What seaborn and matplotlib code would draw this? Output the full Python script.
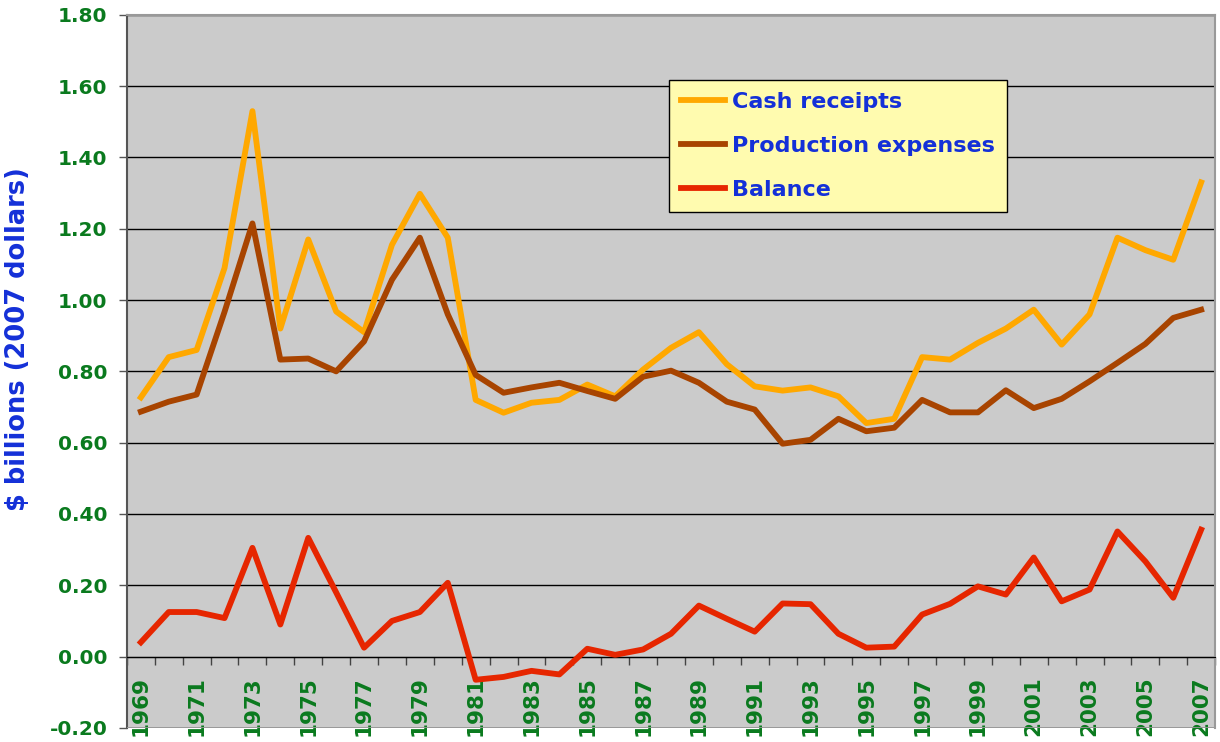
import pandas as pd
import matplotlib
matplotlib.use("Agg")
import matplotlib.pyplot as plt
import seaborn as sns
from matplotlib.ticker import FixedLocator, FormatStrFormatter
from matplotlib.lines import Line2D

years = list(range(1969, 2008))

cash_receipts = [0.727, 0.84, 0.86, 1.09, 1.53, 0.92, 1.17, 0.968, 0.91, 1.155,
                 1.298, 1.175, 0.72, 0.684, 0.712, 0.72, 0.763, 0.73, 0.805, 0.866,
                 0.91, 0.82, 0.758, 0.746, 0.755, 0.73, 0.655, 0.667, 0.84, 0.833,
                 0.88, 0.92, 0.973, 0.875, 0.96, 1.175, 1.14, 1.113, 1.33]

production_expenses = [0.687, 0.715, 0.735, 0.967, 1.215, 0.833, 0.836, 0.80, 0.884, 1.057,
                       1.175, 0.96, 0.79, 0.74, 0.755, 0.768, 0.745, 0.723, 0.785, 0.802,
                       0.768, 0.715, 0.693, 0.597, 0.608, 0.667, 0.632, 0.642, 0.72, 0.685,
                       0.685, 0.747, 0.697, 0.723, 0.772, 0.824, 0.877, 0.95, 0.973]

balance = [0.04, 0.125, 0.125, 0.108, 0.305, 0.09, 0.333, 0.18, 0.025, 0.10,
           0.125, 0.207, -0.065, -0.057, -0.04, -0.05, 0.022, 0.005, 0.02, 0.064,
           0.143, 0.106, 0.07, 0.149, 0.147, 0.064, 0.025, 0.028, 0.118, 0.148,
           0.197, 0.174, 0.278, 0.155, 0.188, 0.351, 0.267, 0.165, 0.356]

series_names = ["Cash receipts", "Production expenses", "Balance"]
colors = {"Cash receipts": "#FFA800", "Production expenses": "#A84400", "Balance": "#E62600"}

df = pd.DataFrame({"year": years * 3,
                   "value": cash_receipts + production_expenses + balance,
                   "series": [s for s in series_names for _ in years]})

green = "#0A7A1E"
blue = "#1430D8"

fig = plt.figure(figsize=(12.2, 7.42), dpi=100)
ax = fig.add_axes([0.104, 0.019, 0.892, 0.961])
ax.set_facecolor("#CBCBCB")

sns.lineplot(data=df, x="year", y="value", hue="series", palette=colors,
             linewidth=4.2, ax=ax, legend=False, zorder=3)

ax.set_xlim(1968.5, 2007.5)
ax.set_ylim(-0.2, 1.8)

# y axis
ax.set_yticks([-0.2 + 0.2 * i for i in range(11)])
ax.yaxis.set_major_formatter(FormatStrFormatter("%.2f"))
ax.tick_params(axis="y", direction="out", length=6, width=1, color="#555555",
               labelsize=14.5, labelcolor=green, pad=8)
for t in ax.get_yticklabels():
    t.set_fontweight("bold")
ax.yaxis.grid(True, color="black", linewidth=1)
ax.set_axisbelow(True)
ax.set_ylabel("$ billions (2007 dollars)", color=blue, fontsize=18.5,
              fontweight="bold")
ax.yaxis.set_label_coords(-0.088, 0.545)

# x axis sits at zero
ax.spines["bottom"].set_position(("data", 0))
ax.spines["bottom"].set_color("black")
ax.spines["left"].set_color("#555555")
ax.spines["left"].set_linewidth(1.5)
ax.spines["top"].set_color("#999999")
ax.spines["right"].set_color("#999999")
ax.spines["top"].set_linewidth(1.5)
ax.spines["right"].set_linewidth(1.5)
ax.axhline(-0.2, color="#999999", linewidth=2, zorder=4)

ax.set_xticks(years[::2])
ax.set_xticklabels([str(y) for y in years[::2]])
ax.xaxis.set_minor_locator(FixedLocator([y - 0.5 for y in years] + [2007.5]))
ax.tick_params(axis="x", which="major", length=0, pad=14, labelsize=15.5,
               labelcolor=green, rotation=90)
ax.tick_params(axis="x", which="minor", direction="out", length=6, width=1,
               color="#444444")
for t in ax.get_xticklabels():
    t.set_fontweight("bold")
    t.set_va("top")
ax.set_xlabel("")

handles = [Line2D([], [], color=colors[s], linewidth=4.2) for s in series_names]
leg = ax.legend(handles, series_names, loc="upper left",
                bbox_to_anchor=(0.498, 0.909), borderaxespad=0,
                frameon=True, fancybox=False, framealpha=1,
                facecolor="#FFFBAF", edgecolor="black",
                handlelength=2.0, handletextpad=0.3, labelspacing=1.08,
                borderpad=0.55, prop={"weight": "bold", "size": 16})
leg.get_frame().set_linewidth(1)
for t in leg.get_texts():
    t.set_color(blue)
leg.set_zorder(5)

fig.savefig("out.png", dpi=100, facecolor="white")
